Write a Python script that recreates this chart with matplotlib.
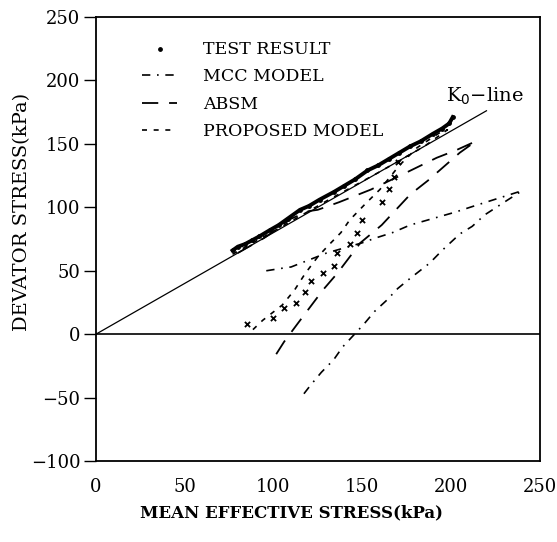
import matplotlib.pyplot as plt
import numpy as np

plt.rcParams['font.family'] = ['DejaVu Serif']

# test result: K0 loading band and unloading points
test_x = [77, 80, 84, 88, 92, 98, 103, 108, 115, 120, 126, 134, 140, 146, 153, 159, 165, 171, 177, 183, 190, 195, 199, 201]
test_y = [66, 69, 71, 74, 77, 82, 86, 91, 98, 101, 106, 112, 117, 122, 129, 133, 138, 143, 148, 152, 158, 162, 166, 171]
unl_x = [170, 168, 165, 161, 150, 147, 143, 136, 134, 128, 121, 118, 113, 106, 100, 85]
unl_y = [136, 124, 114, 104, 90, 80, 71, 64, 54, 48, 42, 33, 25, 21, 13, 8]

# MCC model
mcc_x = [96, 105, 110, 130, 150, 158, 167, 177, 192, 202, 213, 222, 240,
         230, 219, 212, 205, 195, 188, 177, 170, 164, 157, 151, 139, 134, 127, 121, 116]
mcc_y = [50, 52, 53, 64, 72, 76, 80, 86, 92, 96, 101, 105, 113,
         104, 94, 85, 79, 66, 56, 44, 36, 27, 18, 8, -10, -20, -30, -40, -49]

# ABSM
absm_x = [80, 95, 110, 120, 125, 137, 155, 170, 192, 203, 214,
          205, 187, 177, 161, 149, 136, 128, 114, 106, 101, 98]
absm_y = [64, 76, 91, 97, 98, 104, 114, 124, 139, 145, 152,
          143, 121, 110, 86, 72, 48, 35, 9, -6, -17, -22]

# proposed model
prop_x = [77, 100, 130, 160, 185, 198, 195, 181, 171, 160, 152, 143, 138, 131, 125, 118, 112, 105, 94, 88]
prop_y = [63, 81, 105, 128, 148, 161, 160, 147, 133, 114, 103, 90, 80, 70, 61, 48, 35, 23, 11, 3]

k0_x = [0, 220]
k0_y = [0, 176]

fig = plt.figure(figsize=(5.57, 5.42), dpi=100)
ax = fig.add_axes([0.172, 0.149, 0.797, 0.82])

ax.plot(k0_x, k0_y, color='black', lw=0.9)
ax.axhline(0, color='black', lw=1.2)

ax.plot(mcc_x, mcc_y, color='black', lw=1.2, dashes=(5, 4, 1, 4), label='MCC MODEL')
ax.plot(absm_x, absm_y, color='black', lw=1.3, dashes=(9, 6), label='ABSM')
ax.plot(prop_x, prop_y, color='black', lw=1.2, dashes=(3, 4), label='PROPOSED MODEL')

ax.plot(test_x, test_y, color='black', lw=2.8)
ax.scatter(test_x, test_y, color='black', s=6, label='TEST RESULT', zorder=3)
ax.scatter(unl_x, unl_y, color='black', marker='x', s=14, linewidths=1.3, zorder=3)

ax.text(197, 187, 'K$_0$\u2212line', fontsize=14, va='center', ha='left')

ax.set_xlim(0, 250)
ax.set_ylim(-100, 250)
ax.set_xticks([0, 50, 100, 150, 200, 250])
ax.set_yticks([-100, -50, 0, 50, 100, 150, 200, 250])
ax.tick_params(axis='x', length=0, labelsize=13, pad=12)
ax.tick_params(axis='y', direction='out', length=9, width=1, labelsize=13, pad=2)

for s in ax.spines.values():
    s.set_linewidth(1.3)

ax.set_xlabel('MEAN EFFECTIVE STRESS(kPa)', fontsize=12, fontweight='bold')
ax.set_ylabel('DEVATOR STRESS(kPa)', fontsize=14)
ax.xaxis.set_label_coords(0.44, -0.097)
ax.yaxis.set_label_coords(-0.145, 0.56)

h, l = ax.get_legend_handles_labels()
order = [3, 0, 1, 2]
ax.legend([h[i] for i in order], [l[i] for i in order], loc='upper left',
          bbox_to_anchor=(0.085, 0.965), frameon=False, fontsize=12.5,
          handlelength=2.0, handletextpad=1.5, labelspacing=0.6, borderpad=0)

fig.savefig('out.png', dpi=100)
